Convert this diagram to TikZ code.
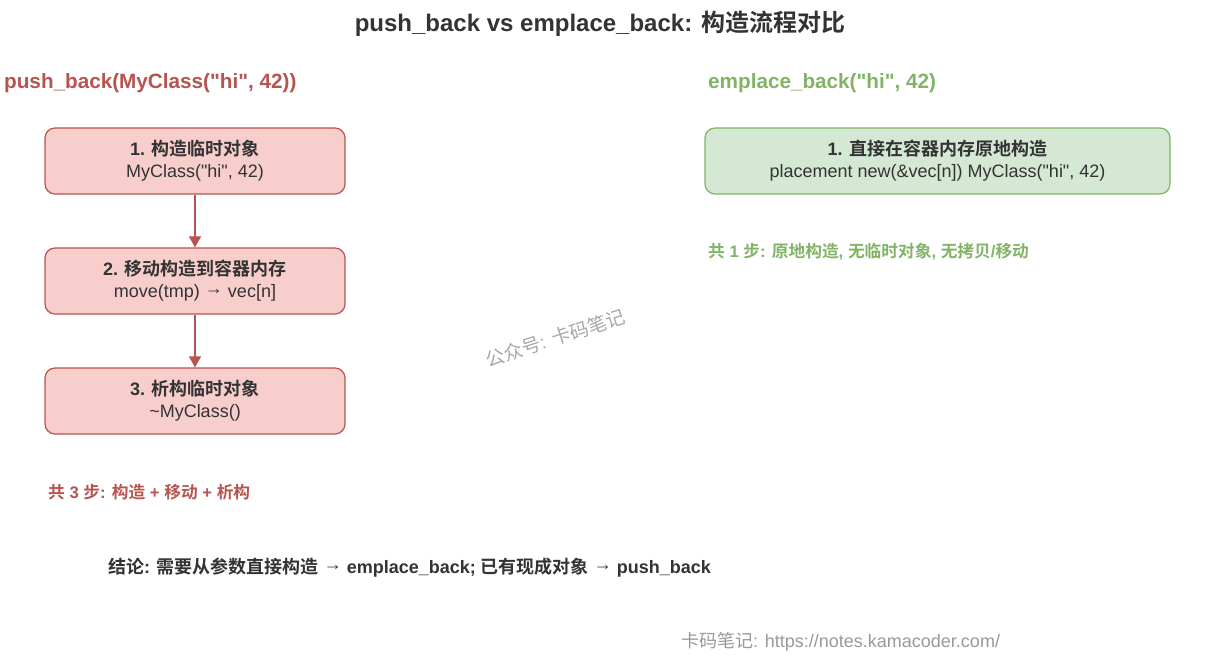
\documentclass[tikz,border=0pt]{standalone}
\usepackage{fontspec}
\setmainfont{Liberation Sans}[Ligatures=TeXOff]
\newfontfamily\cjk{Noto Sans CJK SC}[BoldFont={Noto Sans CJK SC Bold}]
\newcommand\zh[1]{{\cjk #1}}
\newcommand\rarr{\raisebox{0.18em}{→}}
\usetikzlibrary{arrows.meta}
\definecolor{redline}{HTML}{B85450}
\definecolor{redfill}{HTML}{F8CECC}
\definecolor{greenline}{HTML}{82B366}
\definecolor{greenfill}{HTML}{D5E8D4}
\definecolor{darktext}{HTML}{333333}
\definecolor{graytext}{HTML}{999999}
\tikzset{
  redbox/.style={draw=redline, fill=redfill, line width=1.2pt, rounded corners=10pt,
    minimum width=300pt, minimum height=66pt, align=center, text=darktext,
    font=\fontsize{18}{22}\selectfont},
  greenbox/.style={draw=greenline, fill=greenfill, line width=1.2pt, rounded corners=10pt,
    minimum width=465pt, minimum height=66pt, align=center, text=darktext,
    font=\fontsize{18}{22}\selectfont},
  plain/.style={inner sep=0pt, anchor=west},
  redarrow/.style={draw=redline, line width=1.2pt, -{Triangle[width=12pt,length=11pt]}},
}
\begin{document}
\begin{tikzpicture}[x=1pt,y=-1pt]
\useasboundingbox (0,0) rectangle (1232,671);
\fill[white] (0,0) rectangle (1232,671);
% title
\node[inner sep=0pt, text=darktext, font=\fontsize{24}{28}\selectfont\bfseries] (title) at (600,24) {push\_back vs emplace\_back: \zh{构造流程对比}};
% headings
\node[plain, text=redline, font=\fontsize{20.7}{24}\selectfont\bfseries] (hred) at (4,83) {push\_back(MyClass("hi", 42))};
\node[plain, text=greenline, font=\fontsize{20.7}{24}\selectfont\bfseries] (hgreen) at (708,83) {emplace\_back("hi", 42)};
% red boxes
\node[redbox] (b1) at (195,161) {\textbf{1. \zh{构造临时对象}}\\MyClass("hi", 42)};
\node[redbox] (b2) at (195,281) {\textbf{2. \zh{移动构造到容器内存}}\\move(tmp) \rarr{} vec[n]};
\node[redbox] (b3) at (195,401) {\textbf{3. \zh{析构临时对象}}\\\textasciitilde MyClass()};
\draw[redarrow] (b1) -- (b2);
\draw[redarrow] (b2) -- (b3);
% green box
\node[greenbox] (g1) at (937.5,161) {\textbf{1. \zh{直接在容器内存原地构造}}\\placement new(\&vec[n]) MyClass("hi", 42)};
% notes
\node[plain, text=redline, font=\fontsize{16.7}{20}\selectfont\bfseries] (nred) at (48,492) {\zh{共} 3 \zh{步}: \zh{构造} + \zh{移动} + \zh{析构}};
\node[plain, text=greenline, font=\fontsize{16.7}{20}\selectfont\bfseries] (ngreen) at (708,252) {\zh{共} 1 \zh{步}: \zh{原地构造}, \zh{无临时对象}, \zh{无拷贝}/\zh{移动}};
% conclusion
\node[plain, text=darktext, font=\fontsize{18}{22}\selectfont\bfseries] (concl) at (108,568) {\zh{结论}: \zh{需要从参数直接构造} \rarr{} emplace\_back; \zh{已有现成对象} \rarr{} push\_back};
% watermark
\node[inner sep=0pt, text=graytext!85, rotate=18, font=\fontsize{19}{22}\selectfont] (wm) at (555,338) {\zh{公众号}: \zh{卡码笔记}};
% footer
\node[plain, text=graytext, font=\fontsize{18}{22}\selectfont] (foot) at (681,642) {\zh{卡码笔记}: https://notes.kamacoder.com/};
\end{tikzpicture}
\end{document}
